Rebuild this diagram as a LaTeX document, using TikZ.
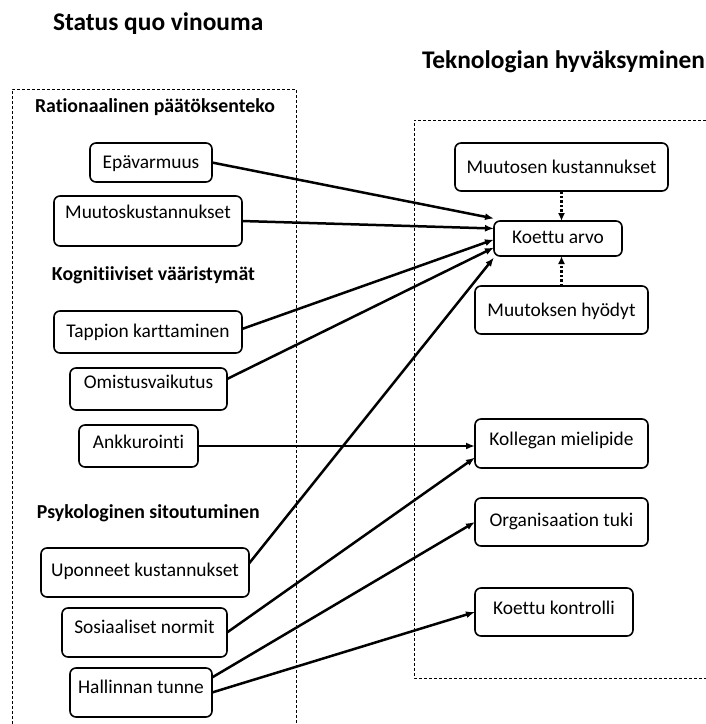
\documentclass[tikz,border=0pt]{standalone}
\usepackage{fontspec}
\setmainfont{Carlito}[Ligatures=NoCommon]
\usetikzlibrary{positioning,arrows.meta,calc}

\begin{document}
\begin{tikzpicture}[x=1pt, y=-1pt, outer sep=0pt,
  box/.style n args={3}{draw, line width=1.6pt, rounded corners=6pt, inner sep=0pt,
    anchor=north west, minimum width=#1pt, text height=#2pt, text depth=#3pt,
    font=\fontsize{19.4}{22}\selectfont},
  head/.style={anchor=base west, inner sep=0pt, font=\bfseries\fontsize{19.8}{22}\selectfont},
  title/.style={anchor=base west, inner sep=0pt, font=\bfseries\fontsize{25.4}{28}\selectfont},
  frame/.style={line width=0.8pt, dash pattern=on 3pt off 2pt},
  link/.style={-{Latex[length=9pt,width=7pt]}, line width=2.5pt},
  dotlink/.style={-{Latex[length=8pt,width=7pt]}, line width=2.7pt, dash pattern=on 2.5pt off 2pt}]

\useasboundingbox (0,0) rectangle (706,724);

%\draw[step=50, gray!20, very thin] (0,0) grid (706,724);

% titles
\node[title] (tsq) at (53,30) {Status quo vinouma};
\node[title] (ttek) at (422,68) {Teknologian hyväksyminen};

% dashed frames
\draw[frame] (12,724) -- (12,89) -- (296,89) -- (296,724);
\draw[frame] (706,120) -- (414,120) -- (414,678) -- (706,678);

% left side
\node[head] (hrat) at (35,112)  {Rationaalinen päätöksenteko};
\node[head] (hkog) at (52,280)  {Kognitiiviset vääristymät};
\node[head] (hpsy) at (37,518)  {Psykologinen sitoutuminen};

\node[box={122}{25}{14}] (epa) at (90,143)  {Epävarmuus};
\node[box={188}{22}{28}] (muk) at (54,196)  {Muutoskustannukset};
\node[box={188}{26}{16}] (tap) at (54,311)  {Tappion karttaminen};
\node[box={157}{20}{22}] (omi) at (70,368)  {Omistusvaikutus};
\node[box={119}{23}{19}] (ank) at (79,425)  {Ankkurointi};
\node[box={208}{28}{21}] (upo) at (41,548)  {Uponneet kustannukset};
\node[box={165}{25}{24}] (sos) at (62,608)  {Sosiaaliset normit};
\node[box={142}{25}{24}] (hal) at (70,668)  {Hallinnan tunne};

% right side
\node[box={213}{30}{18}] (mks) at (455,143) {Muutosen kustannukset};
\node[box={128}{22}{13}] (ka)  at (494,221) {Koettu arvo};
\node[box={173}{30}{18}] (mhy) at (475,286) {Muutoksen hyödyt};
\node[box={173}{26}{23}] (kol) at (475,419) {Kollegan mielipide};
\node[box={173}{28}{20}] (org) at (475,498) {Organisaation tuki};
\node[box={158}{26}{22}] (kk)  at (475,588) {Koettu kontrolli};

\draw[dotlink] (mks.south) -- (mks.south |- ka.north);
\draw[dotlink] (mhy.north) -- (mhy.north |- ka.south);

% arrows
\draw[link] (epa.east) -- ([yshift=20pt]ka.west);
\draw[link] (muk.east) -- ([yshift=10pt]ka.west);
\draw[link] ([yshift=3pt]tap.east) -- ([yshift=-1pt]ka.west);
\draw[link] ([yshift=10pt]omi.east) -- ([yshift=-9pt]ka.west);
\draw[link] ([yshift=9pt]upo.east) -- ([yshift=-19pt]ka.west);
\draw[link] (ank.east) -- (ank.east -| kol.west);
\draw[link] (sos.east) -- ([yshift=-14pt]kol.west);
\draw[link] ([yshift=15pt]hal.east) -- (org.west);
\draw[link] (hal.east) -- (kk.west);

\end{tikzpicture}
\end{document}
